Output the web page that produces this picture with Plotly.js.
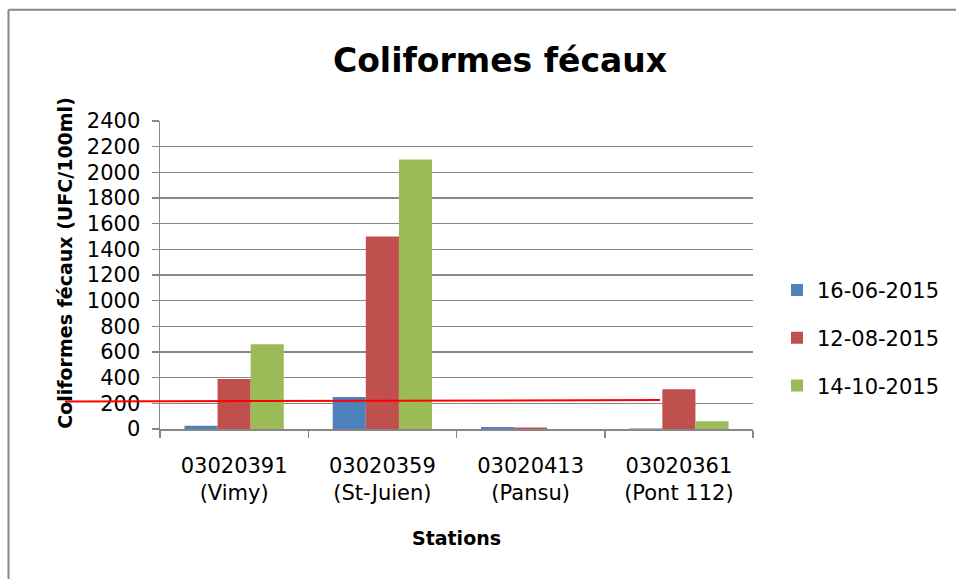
<!DOCTYPE html>
<html>
<head>
<meta charset="utf-8">
<script src="https://cdn.plot.ly/plotly-3.0.1.min.js"></script>
<style>html,body{margin:0;padding:0;background:#fff;}#chart{width:956px;height:579px;}</style>
</head>
<body>
<div id="chart"></div>
<script>
var stations = ["03020391<br>(Vimy)", "03020359<br>(St-Juien)", "03020413<br>(Pansu)", "03020361<br>(Pont 112)"];
var seriesNames = ["16-06-2015", "12-08-2015", "14-10-2015"];
var values0616 = [25, 250, 15, 3];
var values0812 = [390, 1500, 12, 310];
var values1410 = [660, 2100, 0, 60];
var seriesColors = ["#4F81BD", "#C0504D", "#9BBB59"];
var yTicks = [0, 200, 400, 600, 800, 1000, 1200, 1400, 1600, 1800, 2000, 2200, 2400];
var thresholdLineY = [214, 226];

var font = "DejaVu Sans, sans-serif";
var allValues = [values0616, values0812, values1410];
var traces = allValues.map(function (v, i) {
  return {
    type: "bar", x: stations, y: v, name: seriesNames[i],
    marker: {color: seriesColors[i], line: {width: 0}},
    legendgroup: "g" + i, hoverinfo: "skip"
  };
});

var W = 956, H = 579, L = 160, R = 203, T = 121, B = 149.5;
var pw = W - L - R, ph = H - T - B;
function px(x) { return (x - L) / pw; }
function py(y) { return (H - B - y) / ph; }

var layout = {
  width: W, height: H,
  margin: {l: L, r: R, t: T, b: B, pad: 0, autoexpand: false},
  paper_bgcolor: "#ffffff", plot_bgcolor: "#ffffff",
  font: {family: font, size: 21, color: "#000"},
  title: {text: "<b>Coliformes fécaux</b>", font: {family: font, size: 33, color: "#000"},
          x: 500 / W, xref: "container", xanchor: "center", y: 1 - 60 / H, yref: "container", yanchor: "middle"},
  barmode: "group", bargap: 0.33, bargroupgap: 0,
  xaxis: {
    type: "category", showgrid: false, showline: true, linecolor: "#888", linewidth: 1.5,
    ticks: "outside", tickson: "boundaries", ticklen: 7, tickcolor: "#888", tickwidth: 1.5,
    ticklabelstandoff: 17,
    tickfont: {family: font, size: 21, color: "#000"},
    title: {text: "<b>Stations</b>", font: {family: font, size: 19, color: "#000"}, standoff: 27}
  },
  yaxis: {
    range: [0, 2400], tickvals: yTicks, ticktext: yTicks.map(String),
    showgrid: true, gridcolor: "#888", gridwidth: 1.5,
    showline: true, linecolor: "#888", linewidth: 1.5, zeroline: false,
    ticks: "outside", ticklen: 7, tickcolor: "#888", tickwidth: 1.5,
    ticklabelstandoff: 7,
    tickfont: {family: font, size: 21, color: "#000"}
  },
  legend: {x: px(777), xanchor: "left", y: py(270), yanchor: "top",
           font: {family: font, size: 21, color: "#000"},
           traceorder: "grouped", tracegroupgap: 17.5, bgcolor: "rgba(0,0,0,0)"},
  annotations: [{
    text: "<b>Coliformes fécaux (UFC/100ml)</b>", textangle: -90, showarrow: false,
    xref: "paper", yref: "paper", x: px(65), y: py(263), xanchor: "center", yanchor: "middle",
    font: {family: font, size: 19, color: "#000"}
  }],
  shapes: [
    {type: "line", xref: "paper", yref: "paper", x0: px(8.5), x1: px(8.5), y0: py(9.5), y1: py(600),
     line: {color: "#888", width: 2}, layer: "below"},
    {type: "line", xref: "paper", yref: "paper", x0: px(8.5), x1: px(1000), y0: py(9.5), y1: py(9.5),
     line: {color: "#888", width: 2}, layer: "below"},
    {type: "line", xref: "paper", yref: "y", x0: px(65), x1: px(660), y0: thresholdLineY[0], y1: thresholdLineY[1],
     line: {color: "#FF0000", width: 2}, layer: "above"}
  ]
};

Plotly.newPlot("chart", traces, layout, {displayModeBar: false, staticPlot: true});
</script>
</body>
</html>
